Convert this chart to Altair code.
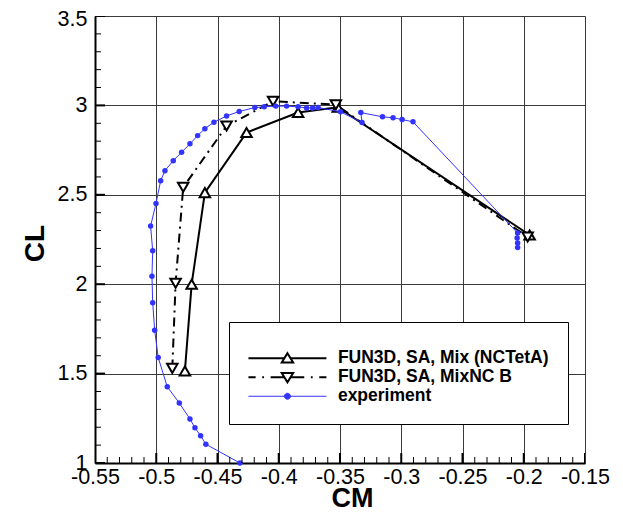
import altair as alt
import pandas as pd

# ---- data ----
s1_name = "FUN3D, SA, Mix (NCTetA)"
s1_cm = [-0.4766, -0.4711, -0.4603, -0.4263, -0.3842, -0.3518, -0.1952]
s1_cl = [1.515, 2.000, 2.512, 2.848, 2.960, 2.990, 2.275]

s2_name = "FUN3D, SA, MixNC B"
s2_cm = [-0.4869, -0.4842, -0.4780, -0.4426, -0.4046, -0.3534, -0.1968]
s2_cl = [1.529, 2.005, 2.542, 2.885, 3.023, 3.004, 2.264]

exp_name = "experiment"
exp_cm = [-0.4317, -0.4595, -0.4638, -0.4684, -0.4725, -0.4812, -0.4910, -0.4984,
          -0.5013, -0.5029, -0.5035, -0.5029, -0.5046, -0.5002, -0.4964, -0.4929,
          -0.4861, -0.4793, -0.4725, -0.4662, -0.4603, -0.4529, -0.4426, -0.4323,
          -0.4195, -0.4119, -0.4024, -0.3936, -0.3842, -0.3773, -0.3724, -0.3679,
          -0.3496, -0.3320, -0.3330, -0.3153, -0.3067, -0.2993, -0.2904, -0.2050,
          -0.2054, -0.2050, -0.2050]
exp_cl = [1.000, 1.105, 1.153, 1.197, 1.246, 1.336, 1.426, 1.590, 1.743, 1.896,
          2.045, 2.187, 2.325, 2.452, 2.579, 2.635, 2.691, 2.738, 2.785, 2.831,
          2.870, 2.906, 2.941, 2.966, 2.988, 2.992, 2.996, 2.996, 2.992, 2.986,
          2.986, 2.988, 2.964, 2.904, 2.960, 2.936, 2.931, 2.921, 2.908, 2.286,
          2.258, 2.230, 2.205]

x_major = [-0.55, -0.5, -0.45, -0.4, -0.35, -0.3, -0.25, -0.2, -0.15]
y_major = [1.0, 1.5, 2.0, 2.5, 3.0, 3.5]
x_minor = [round(-0.55 + 0.01 * k, 2) for k in range(41) if k % 5 != 0]
y_minor = [round(1.0 + 0.1 * k, 1) for k in range(26) if k % 5 != 0]

series_names = [s1_name, s2_name, exp_name]

FONT = "Liberation Sans"
BLUE = "#3333ff"

def frame(cm, cl):
    return pd.DataFrame({"cm": cm, "cl": cl, "i": list(range(len(cm)))})

d1, d2, d3 = frame(s1_cm, s1_cl), frame(s2_cm, s2_cl), frame(exp_cm, exp_cl)

xs = alt.Scale(domain=[-0.55, -0.15], nice=False, zero=False)
ys = alt.Scale(domain=[1.0, 3.5], nice=False, zero=False)

x_axis = alt.Axis(values=x_major, grid=True, gridColor="#3a3a3a", gridWidth=1,
                  ticks=False, tickSize=0, domain=True, domainColor="black",
                  domainWidth=2, labelFont=FONT, labelFontSize=21.5,
                  labelColor="black", labelPadding=3, labelFlush=False,
                  labelOverlap=False,
                  labelExpr="datum.value < 0 ? '-' + format(-datum.value, '~g') : format(datum.value, '~g')",
                  title="CM", titleFont=FONT, titleFontSize=27,
                  titleFontWeight="bold", titleColor="black",
                  titleX=257, titleY=35, titleAlign="center",
                  titleBaseline="middle")
y_axis = alt.Axis(values=y_major, grid=True, gridColor="#3a3a3a", gridWidth=1,
                  ticks=False, tickSize=0, domain=True, domainColor="black",
                  domainWidth=2, labelFont=FONT, labelFontSize=21.5,
                  labelColor="black", labelPadding=8, labelFlush=False,
                  labelOverlap=False, labelExpr="format(datum.value, '~g')",
                  labelOffset={"condition": {"test": "datum.value >= 3.5", "value": 3},
                               "value": 0},
                  title="CL", titleFont=FONT, titleFontSize=28,
                  titleFontWeight="bold", titleColor="black",
                  titleX=-60, titleY=227, titleAngle=270, titleAlign="center",
                  titleBaseline="middle")

base_x = alt.X("cm:Q", scale=xs, axis=x_axis)
base_y = alt.Y("cl:Q", scale=ys, axis=y_axis)

def line_layer(df, color, width, dash=None):
    kw = dict(color=color, strokeWidth=width)
    if dash:
        kw["strokeDash"] = dash
    return alt.Chart(df).mark_line(**kw).encode(
        x=alt.X("cm:Q", scale=xs), y=alt.Y("cl:Q", scale=ys), order="i:Q")

def point_layer(df, shape, size, fill, stroke, sw):
    return alt.Chart(df).mark_point(shape=shape, size=size, filled=True,
                                    fill=fill, stroke=stroke, strokeWidth=sw,
                                    opacity=1).encode(
        x=alt.X("cm:Q", scale=xs), y=alt.Y("cl:Q", scale=ys))

# axis carrier (axes + grid)
axis_layer = alt.Chart(d1).mark_point(opacity=0).encode(x=base_x, y=base_y)

# inward ticks drawn as clipped tick marks centred on the axis lines
xt_major = alt.Chart(pd.DataFrame({"v": x_major})).mark_tick(
    orient="vertical", size=20, thickness=2, color="black", clip=True,
    opacity=1).encode(x=alt.X("v:Q", scale=xs), y=alt.datum(1.0, scale=ys))
xt_minor = alt.Chart(pd.DataFrame({"v": x_minor})).mark_tick(
    orient="vertical", size=12, thickness=1, color="black", clip=True,
    opacity=1).encode(x=alt.X("v:Q", scale=xs), y=alt.datum(1.0, scale=ys))
yt_major = alt.Chart(pd.DataFrame({"v": y_major})).mark_tick(
    orient="horizontal", size=20, thickness=2, color="black", clip=True,
    opacity=1).encode(y=alt.Y("v:Q", scale=ys), x=alt.datum(-0.55, scale=xs))
yt_minor = alt.Chart(pd.DataFrame({"v": y_minor})).mark_tick(
    orient="horizontal", size=12, thickness=1, color="black", clip=True,
    opacity=1).encode(y=alt.Y("v:Q", scale=ys), x=alt.datum(-0.55, scale=xs))

# legend carrier: one row per series placed outside the domain (clipped)
leg_df = pd.DataFrame({"series": series_names, "cm": [-1.0] * 3, "cl": [0.0] * 3})
sym_solid = "M-6.5,0H-0.52M0.52,0H6.5M0,-0.85L0.95,0.7L-0.95,0.7Z"
sym_dashdot = ("M-6.5,0H-5.3M-4.2,0H-3.9M-2.8,0H-0.52M0.52,0H2.8M3.9,0H4.2M5.3,0H6.5"
               "M-0.95,-0.7L0.95,-0.7L0,0.85Z")
sym_exp = "M-6.5,0H6.5M0.5,0A0.5,0.5 0 1,1 -0.5,0A0.5,0.5 0 1,1 0.5,0Z"

leg = alt.Legend(orient="none", legendX=134, legendY=306, fillColor="white",
                 strokeColor="black", padding=19, title=" ", titleFontSize=8.5,
                 titlePadding=0, labelFont=FONT, labelFontSize=17.5,
                 labelFontWeight="bold", labelColor="black", symbolSize=144,
                 symbolOffset=30.7, labelOffset=41.7, rowPadding=0,
                 labelLimit=400)

legend_layer = alt.Chart(leg_df).mark_point(filled=False, clip=True, opacity=1,
                                            size=144).encode(
    x=alt.X("cm:Q", scale=xs), y=alt.Y("cl:Q", scale=ys),
    shape=alt.Shape("series:N", scale=alt.Scale(domain=series_names,
                    range=[sym_solid, sym_dashdot, sym_exp]), legend=leg),
    stroke=alt.Stroke("series:N", scale=alt.Scale(domain=series_names,
                      range=["black", "black", BLUE]), legend=leg),
    fill=alt.Fill("series:N", scale=alt.Scale(domain=series_names,
                  range=["white", "white", BLUE]), legend=leg),
    strokeWidth=alt.StrokeWidth("series:N", scale=alt.Scale(type="ordinal",
                                domain=series_names, range=[2, 2, 1]), legend=leg),
)

chart = alt.layer(
    axis_layer,
    line_layer(d1, "black", 2),
    line_layer(d2, "black", 2, [9, 5, 2, 5]),
    point_layer(d1, "triangle-up", 110, "white", "black", 2),
    point_layer(d2, "triangle-down", 110, "white", "black", 2),
    line_layer(d3, BLUE, 1),
    point_layer(d3, "circle", 30, BLUE, BLUE, 0),
    xt_major, xt_minor, yt_major, yt_minor,
    legend_layer,
).properties(
    width=490, height=447,
    padding={"left": 87, "top": 8, "right": 30, "bottom": 49},
    autosize=alt.AutoSizeParams(type="none"),
).configure_view(stroke="black", strokeWidth=1.5).configure(background="white")

chart.save("out.html", embed_options={"renderer": "svg", "actions": False})
